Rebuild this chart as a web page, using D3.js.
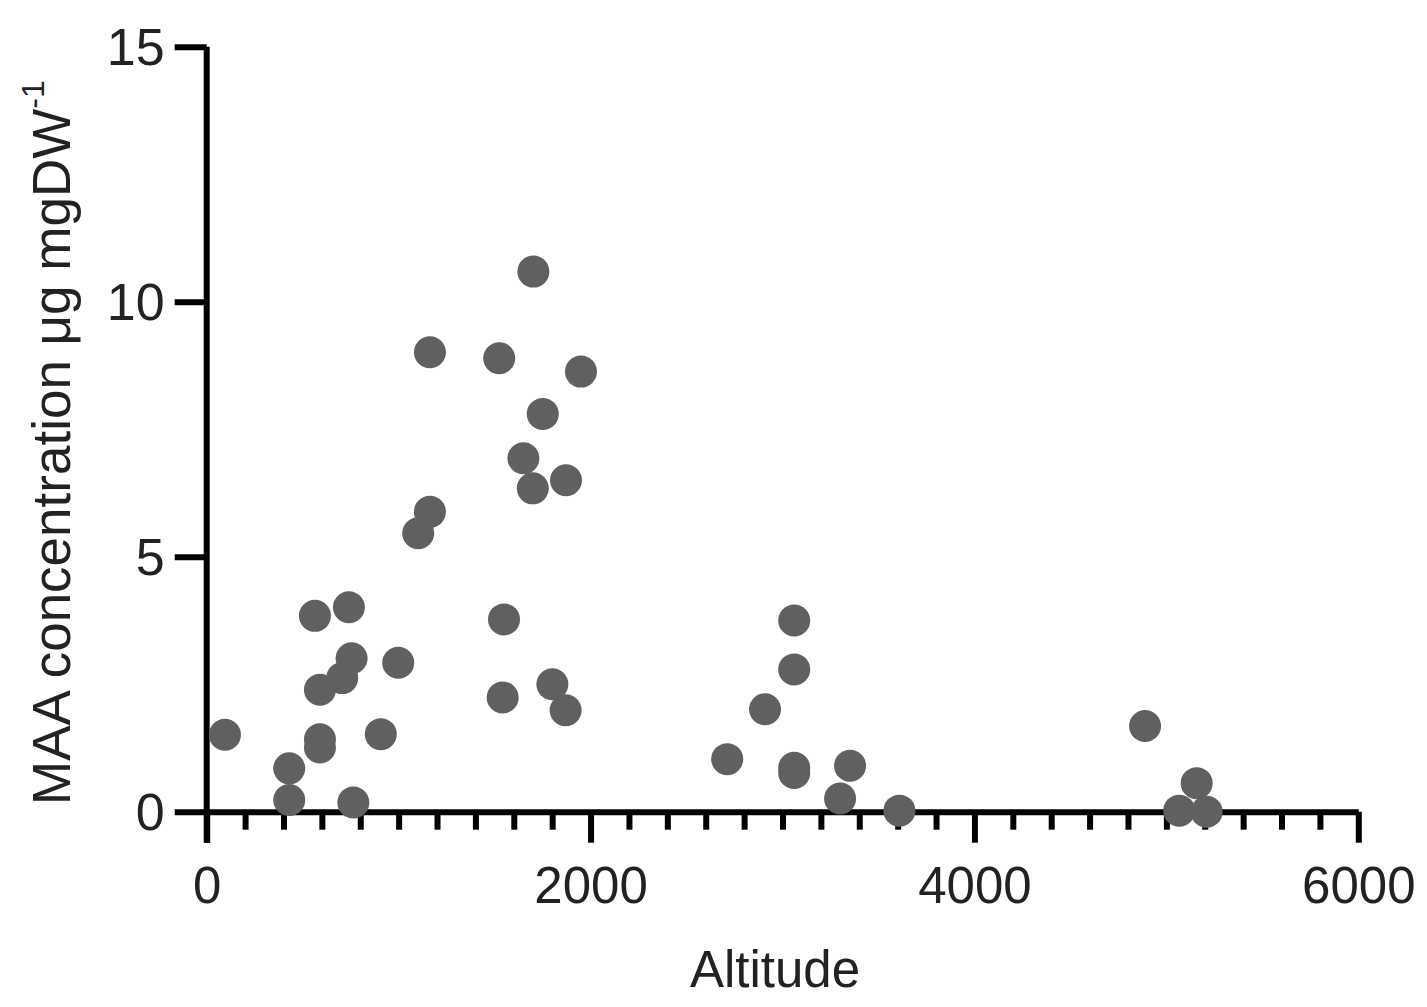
<!DOCTYPE html>
<html lang="en">
<head>
<meta charset="utf-8">
<title>MAA concentration vs altitude</title>
<script src="https://d3js.org/d3.v7.min.js"></script>
<style>
  body { margin: 0; background: #fff; }
  svg { display: block; font-family: "Liberation Sans", Arial, sans-serif; }
  .axis path, .axis line { stroke: #000; stroke-width: 6; }
  .axis text { fill: #222; }
</style>
</head>
<body>
<div id="chart"></div>
<script>
// sample altitudes (m) and MAA concentration (µg mgDW-1)
var altitude = [95, 430, 430, 564, 590, 590, 590, 706, 741, 755,
                764, 907, 998, 1102, 1163, 1163, 1524, 1549, 1542, 1702,
                1650, 1699, 1751, 1801, 1870, 1872, 1950, 2712, 2909, 3061,
                3061, 3061, 3061, 3300, 3352, 3609, 4889, 5158, 5067, 5210];
var maa = [1.51, 0.85, 0.23, 3.84, 2.39, 1.42, 1.26, 2.62, 4.01, 3.01,
           0.18, 1.52, 2.92, 5.46, 5.88, 9.01, 8.89, 3.77, 2.24, 10.59,
           6.93, 6.34, 7.80, 2.50, 1.99, 6.50, 8.63, 1.03, 2.01, 3.75,
           2.79, 0.86, 0.76, 0.26, 0.90, 0.02, 1.68, 0.56, 0.02, 0.00];

var xTicks = [0, 2000, 4000, 6000];
var xMinorTicks = d3.range(200, 6000, 200).filter(function(d){ return d % 2000 !== 0; });
var yTicks = [0, 5, 10, 15];

var width = 1427, height = 1007;

var svg = d3.select("#chart").append("svg")
  .attr("width", width)
  .attr("height", height);

var x = d3.scaleLinear().domain([0, 6000]).range([206.7, 1358.3]);
var y = d3.scaleLinear().domain([0, 15]).range([811.7, 46.7]);

// minor x ticks
svg.append("g")
  .attr("class", "axis")
  .attr("transform", "translate(0," + y(0) + ")")
  .call(d3.axisBottom(x).tickValues(xMinorTicks).tickSize(18).tickSizeOuter(0).tickFormat(""))
  .select(".domain").remove();

// major x axis
var gx = svg.append("g")
  .attr("class", "axis")
  .attr("transform", "translate(0," + y(0) + ")")
  .call(d3.axisBottom(x).tickValues(xTicks).tickSize(31).tickSizeOuter(0).tickFormat(d3.format("d")));
gx.selectAll("text")
  .attr("y", 91)
  .attr("dy", 0)
  .style("font-size", "51px");

// y axis
var gy = svg.append("g")
  .attr("class", "axis")
  .attr("transform", "translate(" + x(0) + ",0)")
  .call(d3.axisLeft(y).tickValues(yTicks).tickSize(32).tickSizeOuter(0).tickPadding(10));
gy.selectAll("text")
  .attr("dy", "0.35em")
  .style("font-size", "52px");
gy.select(".domain").attr("d", "M0," + y(15) + "V" + (y(0) + 31));

// points
svg.append("g").selectAll("circle")
  .data(altitude)
  .enter()
  .append("circle")
    .attr("cx", function(d){ return x(d); })
    .attr("cy", function(d, i){ return y(maa[i]); })
    .attr("r", 16)
    .attr("fill", "#606060");

// axis titles
svg.append("text")
  .attr("x", 775)
  .attr("y", 987)
  .attr("text-anchor", "middle")
  .style("font-size", "51px")
  .attr("fill", "#222")
  .text("Altitude");

var yTitle = svg.append("text")
  .attr("transform", "translate(70,805) rotate(-90)")
  .attr("text-anchor", "start")
  .style("font-size", "53px")
  .attr("fill", "#222");
yTitle.append("tspan").text("MAA concentration \u03bcg mgDW");
yTitle.append("tspan")
  .attr("dy", "-26")
  .style("font-size", "32px")
  .text("-1");
</script>
</body>
</html>
